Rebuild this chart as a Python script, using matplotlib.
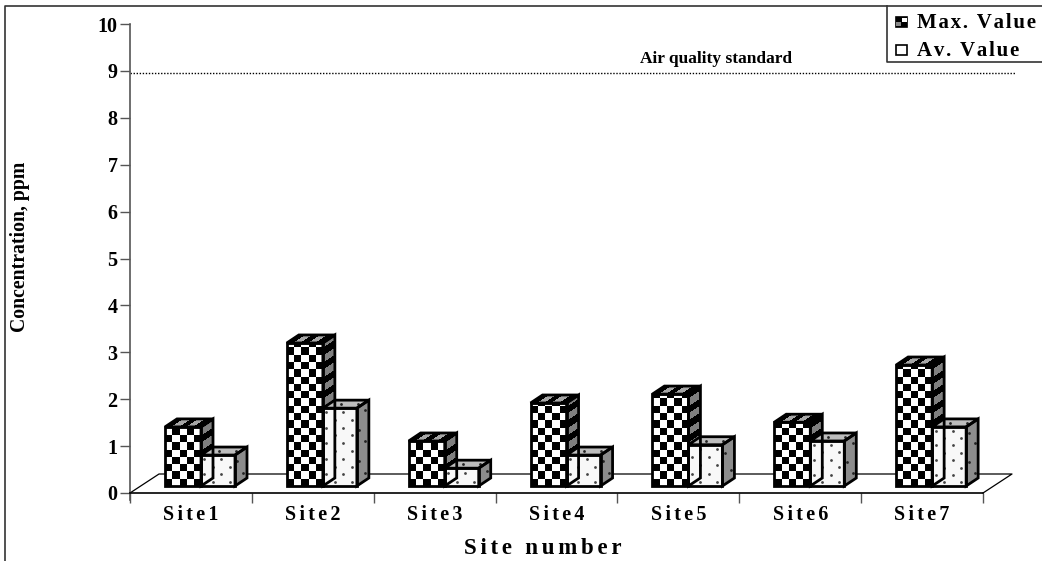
import numpy as np
import matplotlib
matplotlib.use("Agg")
import matplotlib.pyplot as plt
from matplotlib.colors import ListedColormap
from matplotlib.patches import Polygon, Rectangle

plt.rcParams["font.family"] = ["Liberation Serif", "DejaVu Serif"]

# Data
SITES = ["Site1", "Site2", "Site3", "Site4", "Site5", "Site6", "Site7"]
MAX_VALUE = [1.26, 3.05, 0.96, 1.77, 1.96, 1.36, 2.58]
AV_VALUE = [0.66, 1.66, 0.38, 0.66, 0.88, 0.96, 1.26]
STANDARD = 8.95
Y_TICKS = list(range(0, 11))

# Layout in pixels of the 1042x561 picture
W, H = 1042, 561
LEFT, RIGHT, TOP, BOTTOM = 130, 983, 24, 493
PX_X = (RIGHT - LEFT) / 7
PX_Y = (BOTTOM - TOP) / 10

BASE = 7 / PX_Y          # bars stand a little above the front edge of the floor
DX, DY = 12 / PX_X, 8 / PX_Y
FLOOR_DX, FLOOR_DY = 29 / PX_X, 19 / PX_Y
CELL_X, CELL_Y = 7.3 / PX_X, 7.3 / PX_Y


def spaced(s, n=1):
    # the original text is letter spaced
    return ("\u200a" * n).join(s)


def face(ax, origin, u, v, cu, cv, colors):
    """Checkered parallelogram spanned by u (bottom edge) and v (side edge)."""
    su = np.append(np.arange(0, 1 - 1e-6, cu), 1)
    sv = np.append(np.arange(0, 1 - 1e-6, cv), 1)
    uu, vv = np.meshgrid(su, sv)
    X = origin[0] + uu * u[0] + vv * v[0]
    Y = origin[1] + uu * u[1] + vv * v[1]
    C = np.indices((len(sv) - 1, len(su) - 1)).sum(axis=0) % 2
    ax.pcolormesh(X, Y, C, cmap=ListedColormap(colors), vmin=0, vmax=1,
                  shading="flat", clip_on=False, antialiased=False, zorder=3)


def dots(ax, origin, u, v, nu, nv, color, size):
    pts = []
    for j in range(nv):
        for i in range(nu):
            a = (i + (0.2 if j % 2 else 0.7)) / nu
            b = (j + 0.5) / nv
            pts.append((origin[0] + a * u[0] + b * v[0], origin[1] + a * u[1] + b * v[1]))
    pts = np.array(pts)
    ax.scatter(pts[:, 0], pts[:, 1], s=size, c=color, linewidths=0, clip_on=False, zorder=4)


def outline(ax, x, w, top):
    for pts in (
        [(x, BASE), (x + w, BASE), (x + w, top), (x, top)],
        [(x + w, BASE), (x + w + DX, BASE + DY), (x + w + DX, top + DY), (x + w, top)],
        [(x, top), (x + w, top), (x + w + DX, top + DY), (x + DX, top + DY)],
    ):
        ax.add_patch(Polygon(pts, closed=True, fill=False, ec="black", lw=2,
                             joinstyle="miter", clip_on=False, zorder=5))


def checker_bar(ax, x, w, value):
    top = BASE + value
    face(ax, (x, BASE), (w, 0), (0, value), CELL_X / w, CELL_Y / value, ["black", "white"])
    face(ax, (x + w, BASE), (DX, DY), (0, value), 1, CELL_Y / value, ["black", "#7f7f7f"])
    face(ax, (x, top), (w, 0), (DX, DY), CELL_X / w, 1, ["black", "#a6a6a6"])
    outline(ax, x, w, top)


def dotted_bar(ax, x, w, value):
    top = BASE + value
    ax.add_patch(Rectangle((x, BASE), w, value, fc="#f8f8f8", ec="none", clip_on=False, zorder=3))
    ax.add_patch(Polygon([(x + w, BASE), (x + w + DX, BASE + DY), (x + w + DX, top + DY), (x + w, top)],
                         fc="#8c8c8c", ec="none", clip_on=False, zorder=3))
    ax.add_patch(Polygon([(x, top), (x + w, top), (x + w + DX, top + DY), (x + DX, top + DY)],
                         fc="#bdbdbd", ec="none", clip_on=False, zorder=3))
    nv = max(1, int(round(value * PX_Y / 7.7)))
    dots(ax, (x, BASE), (w, 0), (0, value), 2, nv, "#444444", 4)
    dots(ax, (x + w, BASE), (DX, DY), (0, value), 1, max(1, nv // 2), "#222222", 4)
    dots(ax, (x, top), (w, 0), (DX, DY), 2, 1, "#222222", 4)
    outline(ax, x, w, top)


def main():
    fig = plt.figure(figsize=(W / 100, H / 100), dpi=100)
    ax = fig.add_axes([LEFT / W, 1 - BOTTOM / H, (RIGHT - LEFT) / W, (BOTTOM - TOP) / H])
    ax.set_xlim(0, 7)
    ax.set_ylim(0, 10)
    for side in ("top", "right"):
        ax.spines[side].set_visible(False)
    ax.spines["left"].set_color("#555555")
    ax.spines["left"].set_linewidth(1.2)
    ax.spines["bottom"].set_linewidth(1.2)

    ax.set_yticks(Y_TICKS)
    ax.set_yticklabels([str(t) for t in Y_TICKS], fontsize=14.5, fontweight="bold")
    ax.tick_params(axis="y", length=7, width=1, color="#555555", pad=2)
    ax.set_xticks(range(8))
    ax.set_xticklabels([])
    ax.tick_params(axis="x", which="major", length=7, width=1, color="#555555")
    ax.set_xticks(np.arange(7) + 0.5, minor=True)
    ax.set_xticklabels([spaced(s, 2) for s in SITES], minor=True, fontsize=14.5, fontweight="bold")
    ax.tick_params(axis="x", which="minor", length=0, pad=9)

    # floor of the 3D box
    ax.plot([0, FLOOR_DX, 7 + FLOOR_DX, 7], [0, FLOOR_DY, FLOOR_DY, 0], color="black", lw=0.9,
            clip_on=False, zorder=1)
    # the axis carries on a little below the zero tick
    ax.plot([0, 0], [0, -7 / PX_Y], color="#555555", lw=1.2, clip_on=False)

    ax.plot([0, 7 + 32 / PX_X], [STANDARD, STANDARD], color="black", lw=1, ls=(0, (1, 1.2)), clip_on=False)
    ax.text((716 - LEFT) / PX_X, STANDARD + 14 / PX_Y, "Air quality standard", ha="center", va="center",
            fontsize=12.5, fontweight="bold")

    w1, w2 = 36 / PX_X, 34 / PX_X
    for i, (mx, av) in enumerate(zip(MAX_VALUE, AV_VALUE)):
        x = i + 35 / PX_X
        checker_bar(ax, x, w1, mx)
        dotted_bar(ax, x + w1, w2, av)

    # overlay in picture pixels for titles, frame and legend
    ov = fig.add_axes([0, 0, 1, 1], facecolor="none")
    ov.set_xlim(0, W)
    ov.set_ylim(H, 0)
    ov.axis("off")
    ov.plot([5, 5, W], [H, 5.5, 5.5], color="#333333", lw=1.2)
    ov.plot([887, 887, W], [5.5, 62, 62], color="#333333", lw=1.2)

    ov.text(20, 247, "Concentration, ppm", rotation=90, ha="center", va="center", fontsize=14.2, fontweight="bold")
    ov.text(543, 549, spaced("Site number", 2), ha="center", va="center", fontsize=16.5, fontweight="bold")

    ov.add_patch(Rectangle((896, 17), 11, 10, fc="black", ec="black", lw=1.2))
    ov.add_patch(Rectangle((902, 18), 5, 4, fc="white", ec="none"))
    ov.add_patch(Rectangle((896, 22), 5, 4, fc="#888888", ec="none"))
    ov.add_patch(Rectangle((896, 45), 11, 10, fc="white", ec="black", lw=1.2))
    ov.text(917, 23, spaced("Max. Value"), va="center", fontsize=15, fontweight="bold")
    ov.text(917, 51, spaced("Av. Value"), va="center", fontsize=15, fontweight="bold")

    fig.savefig("out.png", dpi=100)


if __name__ == "__main__":
    main()
